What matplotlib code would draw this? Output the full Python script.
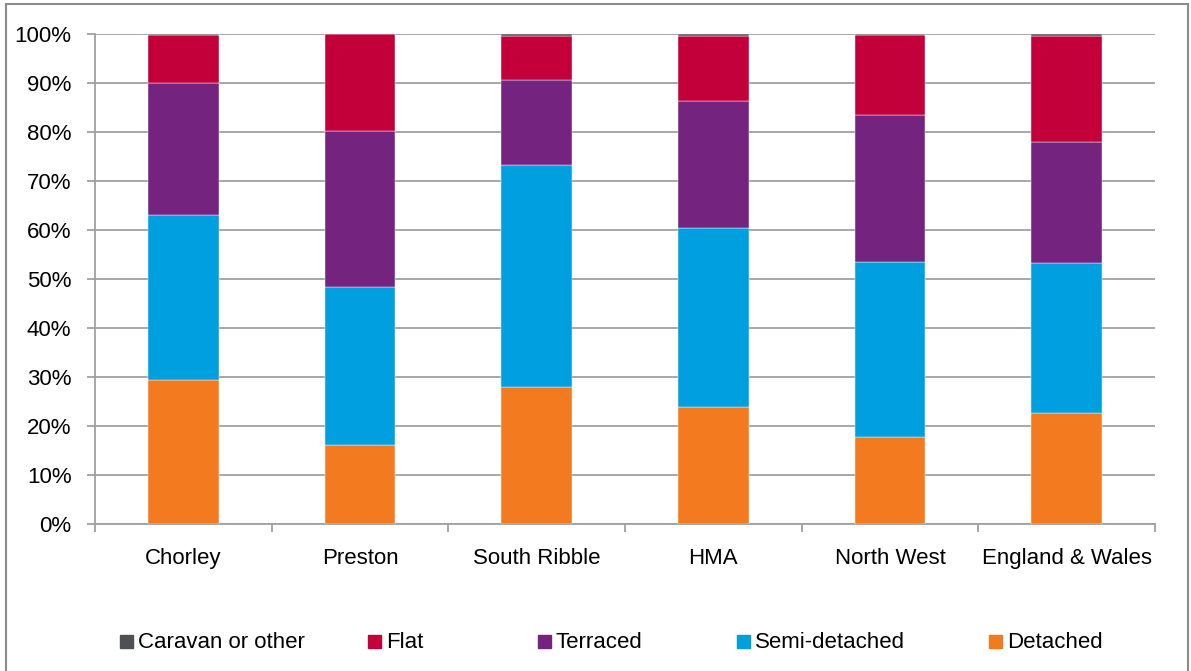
import matplotlib.pyplot as plt
from matplotlib.patches import Rectangle
from matplotlib.ticker import PercentFormatter, FixedLocator

plt.rcParams['font.family'] = ['Liberation Sans', 'DejaVu Sans']

# Dwelling type shares (%) by area
areas = ["Chorley", "Preston", "South Ribble", "HMA", "North West", "England & Wales"]
detached = [29.4, 16.1, 28.0, 23.9, 17.8, 22.7]
semi_detached = [33.7, 32.3, 45.3, 36.5, 35.7, 30.6]
terraced = [26.9, 31.8, 17.3, 25.9, 30.0, 24.7]
flat = [9.7, 19.75, 9.0, 13.3, 16.3, 21.6]
caravan_other = [0.3, 0.05, 0.4, 0.4, 0.2, 0.4]

series = [
    ("Detached", detached, "#F47A20"),
    ("Semi-detached", semi_detached, "#009FDF"),
    ("Terraced", terraced, "#74247E"),
    ("Flat", flat, "#C3003A"),
    ("Caravan or other", caravan_other, "#4D5054"),
]

grid_col = "#A0A0A0"
fs = 16
fig = plt.figure(figsize=(11.91, 6.71), dpi=100)
ax = fig.add_axes([0.0798, 0.2191, 0.89, 0.7302])

x = list(range(len(areas)))
bottom = [0.0] * len(areas)
for name, vals, col in series:
    ax.bar(x, vals, width=0.4, bottom=bottom, color=col, label=name,
           edgecolor="white", linewidth=0.3, zorder=3)
    bottom = [b + v for b, v in zip(bottom, vals)]

ax.set_xlim(-0.5, len(areas) - 0.5)
ax.set_ylim(0, 100)
ax.set_yticks(range(0, 101, 10))
ax.yaxis.set_major_formatter(PercentFormatter(decimals=0))
ax.grid(axis="y", color=grid_col, linewidth=1.3, zorder=0)

ax.set_xticks(x)
ax.set_xticklabels(areas, fontsize=fs)
ax.xaxis.set_minor_locator(FixedLocator([i - 0.5 for i in range(len(areas) + 1)]))
ax.tick_params(axis="x", which="major", length=0, pad=17)
ax.tick_params(axis="x", which="minor", length=6, width=1.3, color=grid_col, direction="out")
ax.tick_params(axis="y", length=6, width=1.3, color=grid_col, labelsize=fs, pad=11)

for side in ["top", "right"]:
    ax.spines[side].set_visible(False)
for side in ["left", "bottom"]:
    ax.spines[side].set_color(grid_col)
    ax.spines[side].set_linewidth(1.3)

# legend entries laid out along the bottom, in reverse stacking order
legend_x = [120, 368, 538, 737, 989]
W, H = 1191, 671
for (name, vals, col), lx in zip(series[::-1], legend_x):
    fig.patches.append(Rectangle((lx / W, 1 - 648 / H), 13 / W, 13 / H,
                                 transform=fig.transFigure, color=col))
    fig.text((lx + 18) / W, 1 - 642 / H, name, fontsize=fs, va="center", ha="left")

# chart area border
fig.patches.append(Rectangle((6 / W, -0.05), 1182 / W, 1.05 - 4 / H,
                             transform=fig.transFigure, fill=False,
                             edgecolor="#8C8C8C", linewidth=1.5))

plt.savefig("out.png", dpi=100)
